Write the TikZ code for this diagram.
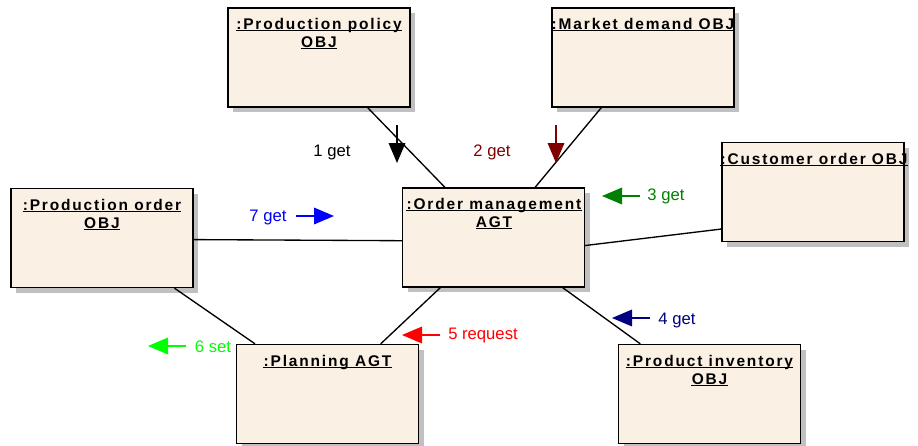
\documentclass[tikz,border=0pt]{standalone}
\usepackage{fontspec}
\setmainfont{Liberation Sans}
\newfontfamily\boxfont[LetterSpace=12]{Liberation Sans}
\usetikzlibrary{arrows.meta,shadows}
\definecolor{boxfill}{HTML}{FAF0E4}
\definecolor{shade}{HTML}{C0C0C0}
\definecolor{msgtwo}{HTML}{800000}
\definecolor{msgthree}{HTML}{008000}
\definecolor{msgfour}{HTML}{000080}
\definecolor{msgfive}{HTML}{FF0000}
\definecolor{msgsix}{HTML}{00FF00}
\definecolor{msgseven}{HTML}{0000FF}

\begin{document}
\begin{tikzpicture}[x=0.75pt,y=-0.75pt,
    obj/.style={draw, line width=1pt, fill=boxfill, inner sep=0,
        minimum width=136.5pt, minimum height=74.25pt,
        drop shadow={shadow xshift=3.75pt, shadow yshift=-3.75pt, fill=shade, opacity=1}},
    ttl/.style={inner sep=0, anchor=base, font={\boxfont\bfseries\fontsize{11.6}{13}\selectfont}},
    msg/.style={line width=0.9pt, -{Triangle[length=15pt,width=12.5pt]}},
    lbl/.style={inner sep=0, font={\fontsize{12.5}{14}\selectfont}}]
    \useasboundingbox (0,0) rectangle (918,446);

    % objects
    \node (pp) at (319,57.5) [obj] {};
    \node (md) at (643,57.5) [obj] {};
    \node (co) at (813,192) [obj] {};
    \node (po) at (102,238) [obj] {};
    \node (om) at (493.5,237.5) [obj] {};
    \node (pl) at (327.5,394) [obj] {};
    \node (pi) at (709.5,394) [obj] {};

    % titles
    \node (pp1) at (319,29) [ttl] {:Production policy\ };
    \node (pp2) at (319,47) [ttl] {OBJ};
    \node (md1) at (643,29) [ttl] {:Market demand OBJ};
    \node (co1) at (814,164) [ttl] {:Customer order OBJ};
    \node (po1) at (102,210) [ttl] {:Production order\ };
    \node (po2) at (102,228) [ttl] {OBJ};
    \node (om1) at (494,209) [ttl] {:Order management\ };
    \node (om2) at (494,227) [ttl] {AGT};
    \node (pl1) at (327.5,366) [ttl] {:Planning AGT};
    \node (pi1) at (709.5,366) [ttl] {:Product inventory\ };
    \node (pi2) at (709.5,384) [ttl] {OBJ};
    \foreach \t in {pp1,pp2,md1,co1,po1,po2,om1,om2,pl1,pi1,pi2}
        \draw[line width=0.8pt] ([yshift=-1pt]\t.base west) -- ([yshift=-1pt]\t.base east);

    % links
    \draw[line width=1pt] (pp) -- (om);
    \draw[line width=1pt] (md) -- (om);
    \draw[line width=1pt] (om.-5) -- (co.202);
    \draw[line width=1pt] (po.-1) -- (om.182);
    \draw[line width=1pt] (om) -- (pi);
    \draw[line width=1pt] (om) -- (pl);
    \draw[line width=1pt] (po) -- (pl);

    % messages
    \coordinate (t1) at (397,125);
    \coordinate (h1) at (397,163);
    \draw[msg] (t1) -- (h1);
    \node (m1) at (332,152) [lbl] {1 get};

    \coordinate (t2) at (556,125);
    \coordinate (h2) at (556,163);
    \draw[msg, msgtwo] (t2) -- (h2);
    \node (m2) at (492,152) [lbl, text=msgtwo] {2 get};

    \coordinate (t3) at (640,196);
    \coordinate (h3) at (602,196);
    \draw[msg, msgthree] (t3) -- (h3);
    \node (m3) at (666,196) [lbl, text=msgthree] {3 get};

    \coordinate (t4) at (650,318);
    \coordinate (h4) at (612,318);
    \draw[msg, msgfour] (t4) -- (h4);
    \node (m4) at (677,320) [lbl, text=msgfour] {4 get};

    \coordinate (t5) at (440,335);
    \coordinate (h5) at (402,335);
    \draw[msg, msgfive] (t5) -- (h5);
    \node (m5) at (483,335) [lbl, text=msgfive] {5 request};

    \coordinate (t6) at (186,346);
    \coordinate (h6) at (148,346);
    \draw[msg, msgsix] (t6) -- (h6);
    \node (m6) at (213,347) [lbl, text=msgsix] {6 set};

    \coordinate (t7) at (296,216);
    \coordinate (h7) at (334,216);
    \draw[msg, msgseven] (t7) -- (h7);
    \node (m7) at (268,217) [lbl, text=msgseven] {7 get};
\end{tikzpicture}
\end{document}
